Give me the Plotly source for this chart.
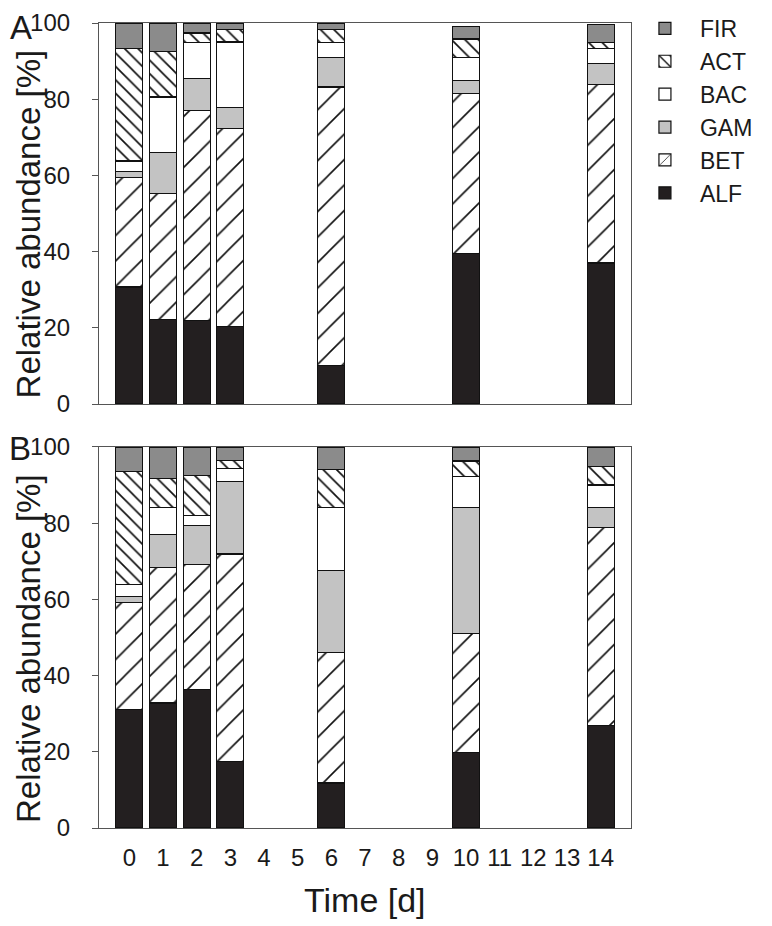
import plotly.graph_objects as go

# ---------------- data ----------------
days = [0, 1, 2, 3, 6, 10, 14]
day_ticks = list(range(15))
day_labels = [str(d) for d in day_ticks]
groups = ["ALF", "BET", "GAM", "BAC", "ACT", "FIR"]

# Panel A (segment sizes, %)
a_alf = [30.7, 22.2, 22.0, 20.3, 10.2, 39.6, 37.0]
a_bet = [28.8, 33.1, 55.1, 52.0, 73.0, 41.8, 46.9]
a_gam = [1.5, 10.7, 8.3, 5.5, 7.8, 3.5, 5.4]
a_bac = [2.8, 14.6, 9.4, 17.2, 3.8, 6.1, 4.1]
a_act = [29.6, 11.9, 2.6, 3.4, 3.4, 4.8, 1.4]
a_fir = [6.6, 7.5, 2.6, 1.6, 1.8, 3.3, 4.8]

# Panel B (segment sizes, %)
b_alf = [31.1, 32.8, 36.3, 17.4, 11.8, 19.9, 26.8]
b_bet = [28.1, 35.6, 32.8, 54.5, 34.2, 31.1, 52.0]
b_gam = [1.6, 8.7, 10.2, 19.0, 21.5, 33.1, 5.4]
b_bac = [3.2, 7.1, 2.8, 3.4, 16.7, 8.2, 5.8]
b_act = [29.6, 7.5, 10.5, 2.1, 9.9, 4.0, 4.8]
b_fir = [6.4, 8.3, 7.4, 3.6, 5.9, 3.7, 5.2]

y_ticks = [0, 20, 40, 60, 80, 100]

panel_a = [a_alf, a_bet, a_gam, a_bac, a_act, a_fir]
panel_b = [b_alf, b_bet, b_gam, b_bac, b_act, b_fir]

# ---------------- styles ----------------
FONT = "Arial, Liberation Sans, sans-serif"
TXT = "#1a1a1a"
styles = {
    "ALF": dict(color="#231f20", pattern=dict(shape="")),
    "BET": dict(color="white", pattern=dict(shape="/", size=18, solidity=0.09,
                                            fgcolor="#111", bgcolor="white", fillmode="replace")),
    "GAM": dict(color="#c3c3c3", pattern=dict(shape="")),
    "BAC": dict(color="white", pattern=dict(shape="")),
    "ACT": dict(color="white", pattern=dict(shape="\\", size=9.5, solidity=0.18,
                                            fgcolor="#111", bgcolor="white", fillmode="replace")),
    "FIR": dict(color="#8b8b8b", pattern=dict(shape="")),
}

fig = go.Figure()
for panel, data, xa, ya in [("A", panel_a, "x", "y"), ("B", panel_b, "x2", "y2")]:
    for g, vals in zip(groups, data):
        st = styles[g]
        fig.add_trace(go.Bar(
            x=days, y=vals, name=g, legendgroup=g, showlegend=(panel == "A"),
            xaxis=xa, yaxis=ya, width=0.8,
            marker=dict(color=st["color"], line=dict(color="#111", width=1.2),
                        pattern=st["pattern"]),
            hoverinfo="skip",
        ))

axis_common = dict(showgrid=False, zeroline=False, showline=True, mirror=True,
                   linecolor="#555", linewidth=1.2, automargin=False)
xr = [-0.9, 14.9]
# page body has an 8px default margin: figure is 764x918 so it fits the 772x926 window
fig.update_layout(
    width=764, height=918,
    margin=dict(l=91, r=141, t=15, b=98, autoexpand=False),
    paper_bgcolor="white", plot_bgcolor="white",
    barmode="stack", bargap=0.2,
    font=dict(family=FONT, color=TXT, size=23),
    xaxis=dict(domain=[0, 1], anchor="y", range=xr, tickvals=day_ticks,
               showticklabels=False, ticks="", **axis_common),
    yaxis=dict(domain=[0.5267, 1], anchor="x", range=[0, 100], tickvals=y_ticks,
               ticks="outside", ticklen=6, tickcolor="#555",
               ticklabelstandoff=17, tickfont=dict(size=24), **axis_common),
    xaxis2=dict(domain=[0, 1], anchor="y2", range=xr, tickvals=day_ticks,
                ticktext=day_labels, ticks="", tickfont=dict(size=24),
                ticklabelstandoff=8, **axis_common),
    yaxis2=dict(domain=[0, 0.4733], anchor="x2", range=[0, 100], tickvals=y_ticks,
                ticks="outside", ticklen=6, tickcolor="#555",
                ticklabelstandoff=17, tickfont=dict(size=24), **axis_common),
    legend=dict(x=0.998, y=1.02, xanchor="left", yanchor="top",
                traceorder="reversed", font=dict(size=23, family=FONT, color=TXT),
                bgcolor="rgba(0,0,0,0)", itemwidth=60, tracegroupgap=0),
    showlegend=True,
)

ann = [
    dict(text="Relative abundance [%]", x=-0.1335, y=0.751, textangle=-90,
         font=dict(size=33)),
    dict(text="Relative abundance [%]", x=-0.1335, y=0.2236, textangle=-90,
         font=dict(size=33)),
    dict(text="A", x=-0.1457, y=0.9938, font=dict(size=33)),
    dict(text="B", x=-0.1485, y=0.471, font=dict(size=33)),
    dict(text="Time [d]", x=0.5, y=-0.0894, font=dict(size=34)),
]
for a in ann:
    fig.add_annotation(xref="paper", yref="paper", showarrow=False,
                       xanchor="center", yanchor="middle", **a)

fig.write_html("out.html")
